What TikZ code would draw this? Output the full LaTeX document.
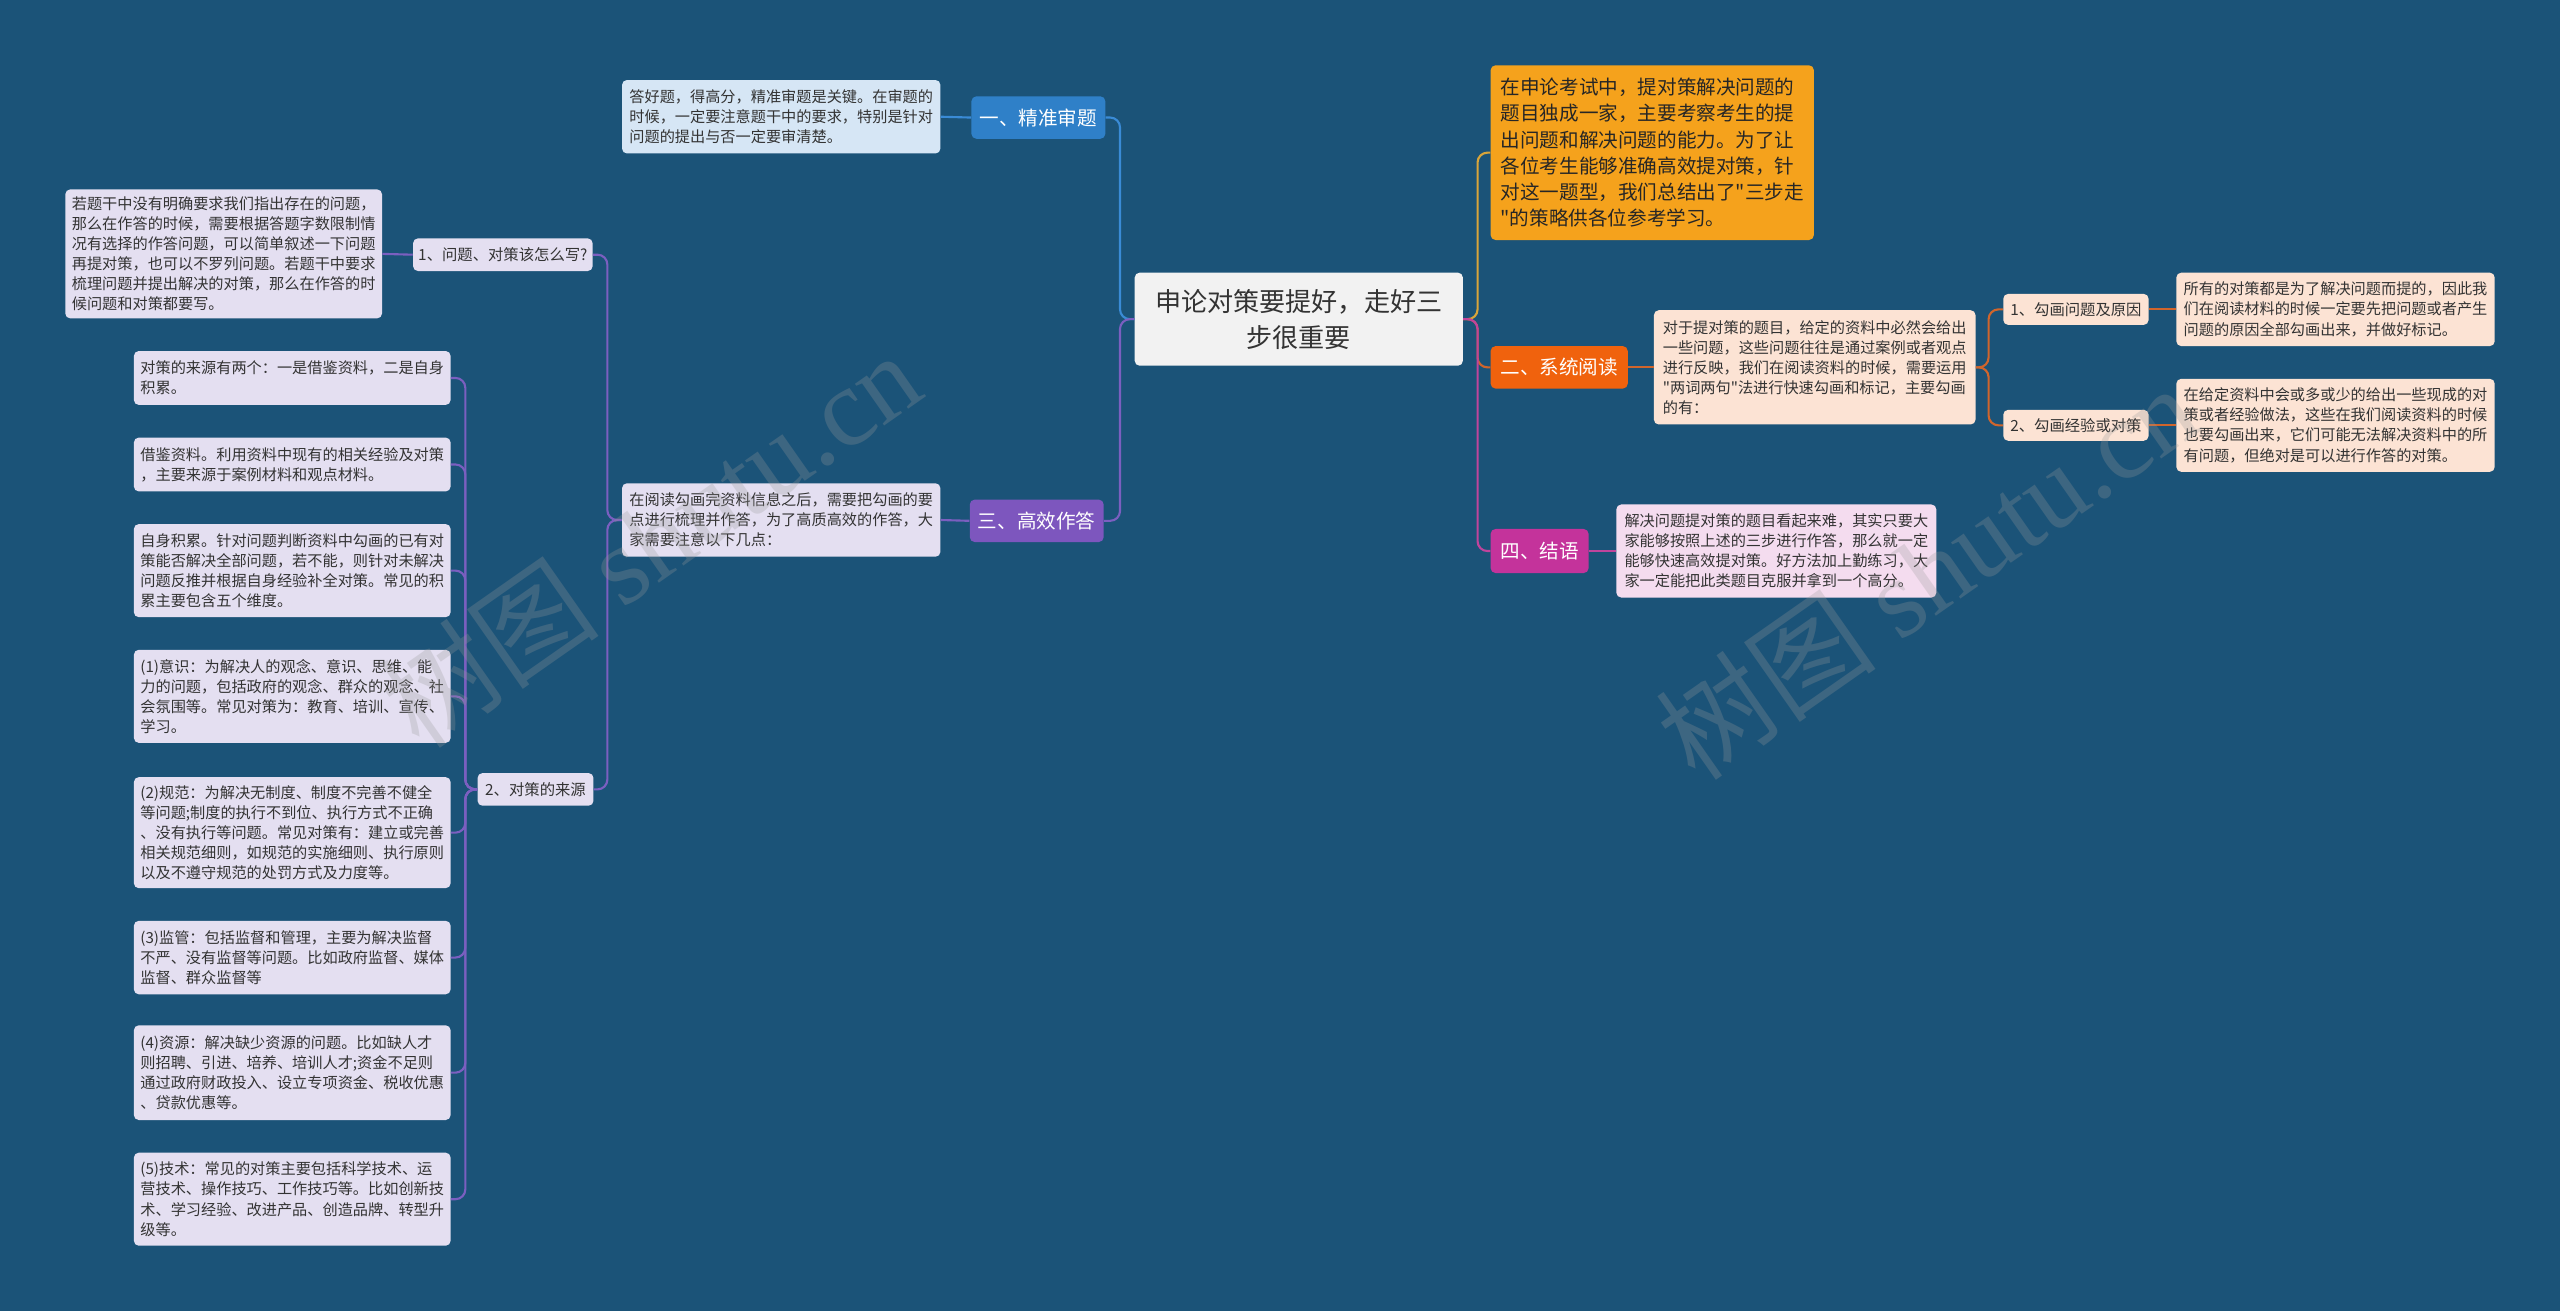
\documentclass[tikz,border=0pt]{standalone}
\usepackage{fontspec}
\setmainfont{Noto Sans CJK SC}[Ligatures=TeXOff]
\newfontfamily\wmfont{Liberation Serif}
\definecolor{bg}{HTML}{1B5378}
\definecolor{txt}{HTML}{333333}
\definecolor{cbox}{HTML}{F2F2F2}
\definecolor{blueB}{HTML}{2F80C8}
\definecolor{blueL}{HTML}{D6E6F5}
\definecolor{blueC}{HTML}{3A8BD6}
\definecolor{purB}{HTML}{7D56BE}
\definecolor{purL}{HTML}{E4DFF1}
\definecolor{purC}{HTML}{7B5FC0}
\definecolor{orgB}{HTML}{F5A21C}
\definecolor{orgC}{HTML}{D9A53A}
\definecolor{redB}{HTML}{F0620D}
\definecolor{redL}{HTML}{FCE3D4}
\definecolor{redC}{HTML}{D0652C}
\definecolor{magB}{HTML}{C4339B}
\definecolor{magL}{HTML}{F4DCEF}
\definecolor{magC}{HTML}{C0449C}
\definecolor{wmc}{HTML}{9A9A9A}
\tikzset{
  box/.style={rounded corners=3pt, inner sep=0pt, align=left, anchor=center},
  leaf/.style={box, text=txt, font=\fontsize{9.3}{12.3}\selectfont},
  branch/.style={box, text=white, font=\fontsize{12}{14}\selectfont},
  sub/.style={box, text=txt, font=\fontsize{9.4}{11}\selectfont},
  conn/.style={line width=1.3pt, rounded corners=6pt},
  wm/.style={text=wmc, opacity=0.27, rotate=35, font=\fontsize{68}{70}\selectfont}
}
\begin{document}
\begin{tikzpicture}[x=1pt,y=-1pt]
\fill[bg] (0,0) rectangle (1568,803);
\useasboundingbox (0,0) rectangle (1568,803);

% central
\node[box, fill=cbox, text=txt, align=center, minimum width=201, minimum height=57,
      font=\fontsize{16}{22}\selectfont] (c) at (795.5,195.5) {申论对策要提好，走好三\\步很重要};

% left branches
\node[branch, fill=blueB, minimum width=82, minimum height=26] (b1) at (636,72) {一、精准审题};
\node[leaf, fill=blueL, minimum width=195, minimum height=45] (b1l) at (478.5,71.5)
  {答好题，得高分，精准审题是关键。在审题的\\时候，一定要注意题干中的要求，特别是针对\\问题的提出与否一定要审清楚。};
\node[branch, fill=purB, minimum width=82, minimum height=26] (b3) at (635,319) {三、高效作答};
\node[leaf, fill=purL, minimum width=195, minimum height=45] (b3l) at (478.5,318.5)
  {在阅读勾画完资料信息之后，需要把勾画的要\\点进行梳理并作答，为了高质高效的作答，大\\家需要注意以下几点：};
\node[sub, fill=purL, minimum width=110, minimum height=20] (s1) at (308,156) {1、问题、对策该怎么写?};
\node[leaf, fill=purL, minimum width=194, minimum height=79] (s1l) at (137,155.5)
  {若题干中没有明确要求我们指出存在的问题，\\那么在作答的时候，需要根据答题字数限制情\\况有选择的作答问题，可以简单叙述一下问题\\再提对策，也可以不罗列问题。若题干中要求\\梳理问题并提出解决的对策，那么在作答的时\\候问题和对策都要写。};
\node[sub, fill=purL, minimum width=71, minimum height=20] (s2) at (328,483.5) {2、对策的来源};
\node[leaf, fill=purL, minimum width=194, minimum height=33] (s2a) at (179,231.5)
  {对策的来源有两个：一是借鉴资料，二是自身\\积累。};
\node[leaf, fill=purL, minimum width=194, minimum height=33] (s2b) at (179,284.5)
  {借鉴资料。利用资料中现有的相关经验及对策\\，主要来源于案例材料和观点材料。};
\node[leaf, fill=purL, minimum width=194, minimum height=57] (s2c) at (179,349.5)
  {自身积累。针对问题判断资料中勾画的已有对\\策能否解决全部问题，若不能，则针对未解决\\问题反推并根据自身经验补全对策。常见的积\\累主要包含五个维度。};
\node[leaf, fill=purL, minimum width=194, minimum height=57] (s2d) at (179,426.5)
  {(1)意识：为解决人的观念、意识、思维、能\\力的问题，包括政府的观念、群众的观念、社\\会氛围等。常见对策为：教育、培训、宣传、\\学习。};
\node[leaf, fill=purL, minimum width=194, minimum height=68] (s2e) at (179,510)
  {(2)规范：为解决无制度、制度不完善不健全\\等问题;制度的执行不到位、执行方式不正确\\、没有执行等问题。常见对策有：建立或完善\\相关规范细则，如规范的实施细则、执行原则\\以及不遵守规范的处罚方式及力度等。};
\node[leaf, fill=purL, minimum width=194, minimum height=45] (s2f) at (179,586.5)
  {(3)监管：包括监督和管理，主要为解决监督\\不严、没有监督等问题。比如政府监督、媒体\\监督、群众监督等};
\node[leaf, fill=purL, minimum width=194, minimum height=58] (s2g) at (179,657)
  {(4)资源：解决缺少资源的问题。比如缺人才\\则招聘、引进、培养、培训人才;资金不足则\\通过政府财政投入、设立专项资金、税收优惠\\、贷款优惠等。};
\node[leaf, fill=purL, minimum width=194, minimum height=57] (s2h) at (179,734.5)
  {(5)技术：常见的对策主要包括科学技术、运\\营技术、操作技巧、工作技巧等。比如创新技\\术、学习经验、改进产品、创造品牌、转型升\\级等。};

% right branches
\node[box, fill=orgB, text=black!85, minimum width=198, minimum height=107,
      font=\fontsize{12}{16}\selectfont] (o) at (1012,93.5)
  {在申论考试中，提对策解决问题的\\题目独成一家，主要考察考生的提\\出问题和解决问题的能力。为了让\\各位考生能够准确高效提对策，针\\对这一题型，我们总结出了"三步走\\"的策略供各位参考学习。};
\node[branch, fill=redB, minimum width=84, minimum height=26] (b2) at (955,225) {二、系统阅读};
\node[leaf, fill=redL, minimum width=197, minimum height=70] (b2l) at (1111.5,225)
  {对于提对策的题目，给定的资料中必然会给出\\一些问题，这些问题往往是通过案例或者观点\\进行反映，我们在阅读资料的时候，需要运用\\"两词两句"法进行快速勾画和标记，主要勾画\\的有：};
\node[sub, fill=redL, minimum width=89, minimum height=19] (b2s1) at (1271.5,189.5) {1、勾画问题及原因};
\node[sub, fill=redL, minimum width=89, minimum height=19] (b2s2) at (1271.5,260.5) {2、勾画经验或对策};
\node[leaf, fill=redL, minimum width=195, minimum height=45] (b2s1l) at (1430.5,189.5)
  {所有的对策都是为了解决问题而提的，因此我\\们在阅读材料的时候一定要先把问题或者产生\\问题的原因全部勾画出来，并做好标记。};
\node[leaf, fill=redL, minimum width=195, minimum height=57] (b2s2l) at (1430.5,260.5)
  {在给定资料中会或多或少的给出一些现成的对\\策或者经验做法，这些在我们阅读资料的时候\\也要勾画出来，它们可能无法解决资料中的所\\有问题，但绝对是可以进行作答的对策。};
\node[branch, fill=magB, minimum width=60, minimum height=27] (b4) at (943,337.5) {四、结语};
\node[leaf, fill=magL, minimum width=196, minimum height=57] (b4l) at (1088,337.5)
  {解决问题提对策的题目看起来难，其实只要大\\家能够按照上述的三步进行作答，那么就一定\\能够快速高效提对策。好方法加上勤练习，大\\家一定能把此类题目克服并拿到一个高分。};

% junction coordinates
\coordinate (jl) at (686,195.5);
\coordinate (jr) at (905,195.5);
\coordinate (j3) at (372,318.5);
\coordinate (j2) at (285,483.5);
\coordinate (j22) at (1218,225);

% connectors: left
\draw[conn, blueC] (c.west) -- (jl) |- (b1.east);
\draw[conn, purC] (c.west) -- (jl) |- (b3.east);
\draw[conn, blueC] (b1.west) -- (b1l.east);
\draw[conn, purC] (b3.west) -- (b3l.east);
\draw[conn, purC] (b3l.west) -- (j3) |- (s1.east);
\draw[conn, purC] (b3l.west) -- (j3) |- (s2.east);
\draw[conn, purC] (s1.west) -- (s1l.east);
\foreach \n in {s2a,s2b,s2c,s2d,s2e,s2f,s2g,s2h}
  \draw[conn, purC] (s2.west) -- (j2) |- (\n.east);

% connectors: right
\draw[conn, orgC] (c.east) -- (jr) |- (o.west);
\draw[conn, redC] (c.east) -- (jr) |- (b2.west);
\draw[conn, magC] (c.east) -- (jr) |- (b4.west);
\draw[conn, redC] (b2.east) -- (b2l.west);
\draw[conn, redC] (b2l.east) -- (j22) |- (b2s1.west);
\draw[conn, redC] (b2l.east) -- (j22) |- (b2s2.west);
\draw[conn, redC] (b2s1.east) -- (b2s1l.west);
\draw[conn, redC] (b2s2.east) -- (b2s2l.west);
\draw[conn, magC] (b4.east) -- (b4l.west);

% watermarks
\node[wm] (wm1) at (398,330) {树图 {\wmfont shutu.cn}};
\node[wm] (wm2) at (1180,350) {树图 {\wmfont shutu.cn}};
\end{tikzpicture}
\end{document}
